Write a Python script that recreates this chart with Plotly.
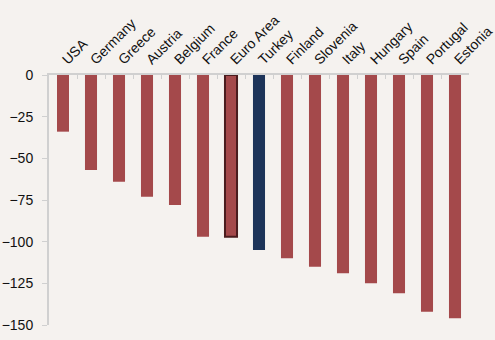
import plotly.graph_objects as go

countries = ["USA", "Germany", "Greece", "Austria", "Belgium", "France", "Euro Area",
             "Turkey", "Finland", "Slovenia", "Italy", "Hungary", "Spain", "Portugal", "Estonia"]
values = [-34, -57, -64, -73, -78, -97, -97, -105, -110, -115, -119, -125, -131, -142, -146]

red = "#a4494b"
navy = "#1d3459"
colors = [navy if c == "Turkey" else red for c in countries]
line_colors = ["#4a1c1e" if c == "Euro Area" else "rgba(0,0,0,0)" for c in countries]
line_widths = [2 if c == "Euro Area" else 0 for c in countries]

fig = go.Figure()
fig.add_trace(go.Bar(
    x=countries, y=values,
    marker=dict(color=colors, line=dict(color=line_colors, width=line_widths)),
    width=0.43,
))

fig.update_layout(
    width=495, height=340,
    margin=dict(l=49, r=26, t=75, b=15),
    paper_bgcolor="#f5f2ef", plot_bgcolor="#f5f2ef",
    font=dict(family="Liberation Sans, Arial", size=14, color="#111"),
    showlegend=False,
)
fig.update_xaxes(
    side="top", tickangle=-45, ticks="inside", ticklen=4, tickcolor="#d0d0d0",
    tickson="boundaries", showline=True, linecolor="#d0d0d0", linewidth=2,
    showgrid=False, range=[-0.5, 14.5], tickfont=dict(size=14), automargin=False,
)
fig.update_yaxes(
    range=[-150, 0], tickvals=[0, -25, -50, -75, -100, -125, -150],
    ticks="outside", ticklen=5, tickcolor="#d0d0d0", showline=True,
    linecolor="#d0d0d0", linewidth=2, showgrid=False, zeroline=False,
    tickfont=dict(size=14), ticklabelstandoff=6, automargin=False,
)

# drop the default body margin so the figure sits at the page corner
fig.write_html("out.html", config={"displayModeBar": False},
               post_script="document.body.style.margin='0';"
               "document.body.style.background='#f5f2ef';")
